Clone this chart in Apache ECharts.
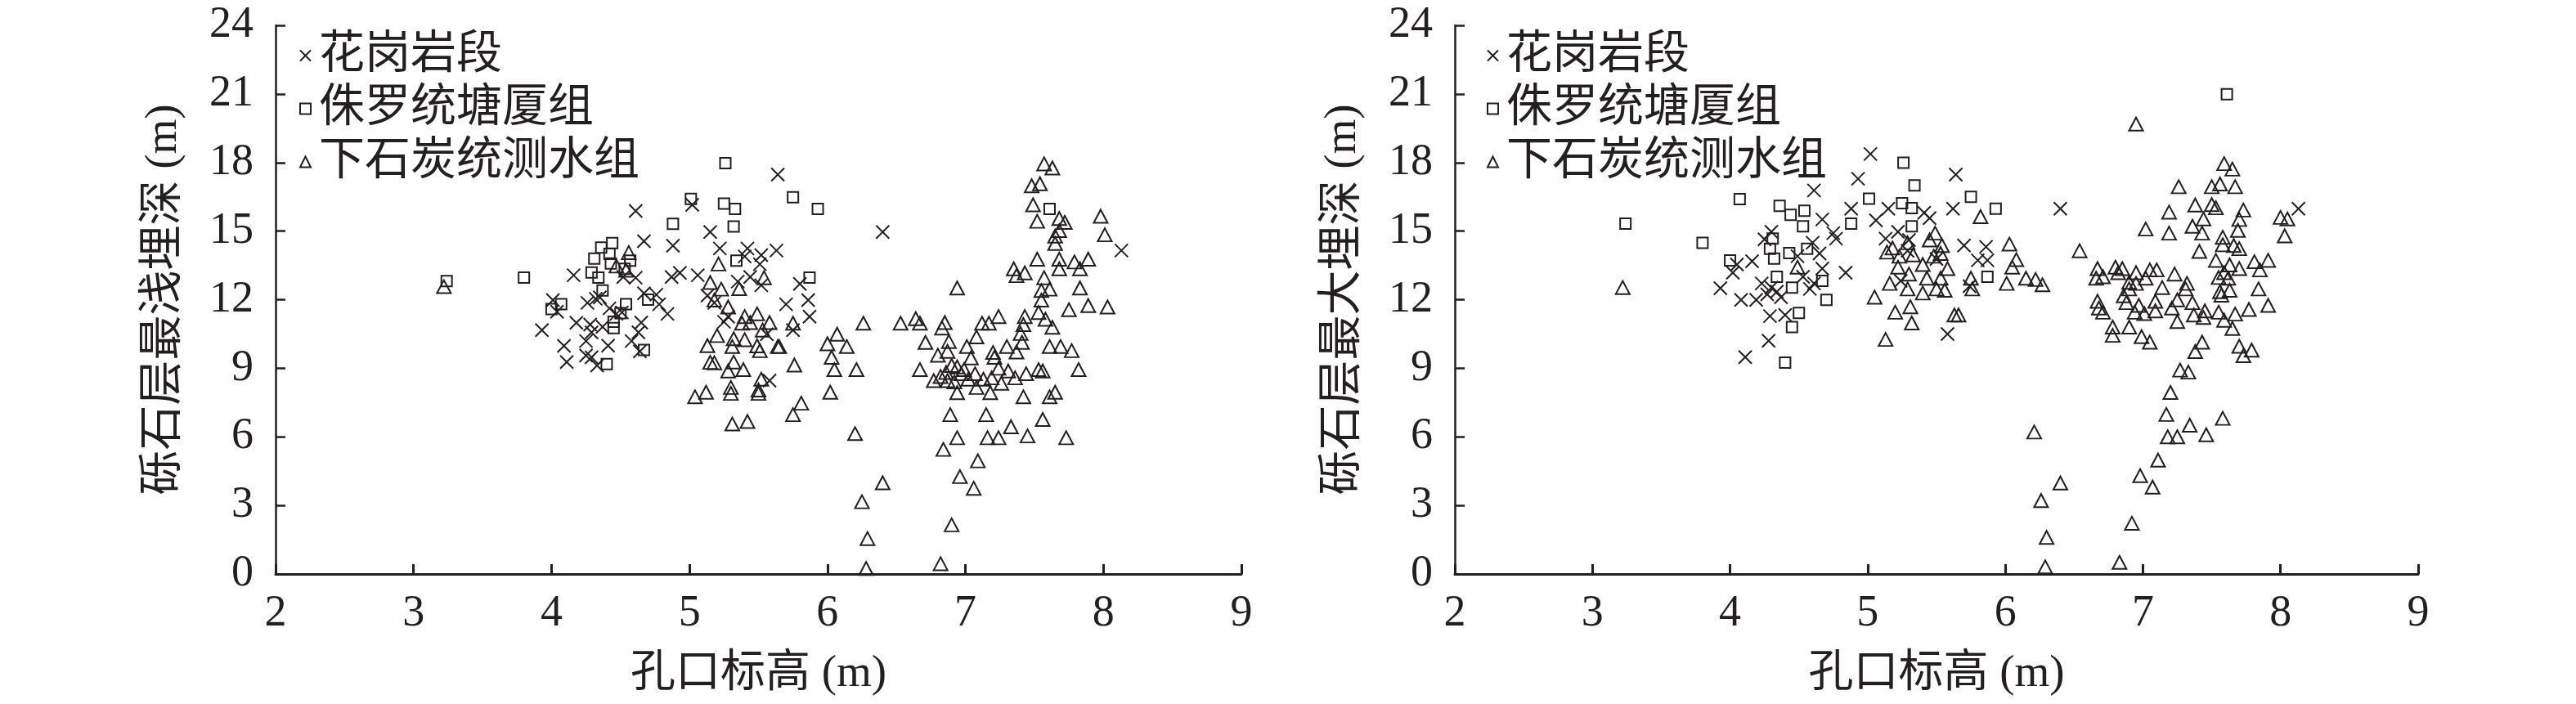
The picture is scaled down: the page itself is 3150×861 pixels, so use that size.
<!DOCTYPE html>
<html>
<head>
<meta charset="utf-8">
<script src="https://cdn.jsdelivr.net/npm/echarts@6/dist/echarts.min.js"></script>
<style>html,body{margin:0;padding:0;background:#fff}#c{width:3150px;height:861px}</style>
</head>
<body>
<div id="c"></div>
<script>
// ---- data ----
const seriesNames = ['花岗岩段', '侏罗统塘厦组', '下石炭统测水组'];
const xAxisTitle = '孔口标高 (m)';
const yAxisTitles = ['砾石层最浅埋深 (m)', '砾石层最大埋深 (m)'];
const xRange = [2, 9, 1];
const yRange = [0, 24, 3];

// left chart: shallowest burial depth
const shallowGranite = [[4.61,15.88],[5.64,17.47],[5.02,16.15],[4.67,14.56],[4.88,14.36],[5.15,14.96],[5.22,14.24],[5.42,14.24],[5.40,13.89],[5.52,13.95],[5.63,14.15],[5.51,13.55],[5.44,12.99],[5.52,12.63],[5.35,12.79],[4.16,13.07],[4.52,12.99],[4.61,12.96],[4.87,12.99],[4.93,13.17],[5.06,13.07],[5.13,12.18],[5.18,11.86],[4.67,12.28],[4.76,12.22],[4.78,11.80],[4.84,11.38],[4.01,11.98],[4.04,11.47],[4.26,11.86],[4.32,12.04],[4.35,12.10],[4.42,11.62],[4.47,11.38],[4.51,11.44],[4.18,10.99],[3.93,10.67],[4.28,10.91],[4.29,10.57],[4.37,10.81],[4.65,11.00],[4.63,10.57],[4.58,10.19],[4.25,10.19],[4.09,9.98],[4.41,9.99],[4.25,9.56],[4.29,9.48],[4.11,9.27],[4.33,9.12],[4.64,9.74],[5.58,8.46],[5.25,11.03],[5.28,11.26],[5.56,10.49],[6.40,14.96],[8.13,14.15],[5.80,12.69],[5.70,11.80],[5.86,11.98],[5.87,11.26],[5.75,10.67]];
const shallowJurassic = [[3.24,12.81],[3.80,12.97],[5.26,17.97],[5.01,16.41],[4.88,15.32],[5.25,16.20],[5.33,15.97],[5.32,15.20],[5.34,13.71],[4.36,14.28],[4.44,14.48],[4.42,14.00],[4.31,13.80],[4.43,13.58],[4.57,13.71],[4.53,13.35],[4.29,13.19],[4.34,12.97],[4.37,12.40],[4.54,11.80],[4.70,12.00],[4.07,11.80],[4.00,11.59],[4.50,11.41],[4.45,11.03],[4.45,10.76],[4.67,9.80],[4.40,9.18],[5.75,16.48],[5.93,15.97],[5.87,12.97],[7.61,15.97]];
const shallowCarbon = [[3.22,12.57],[4.56,14.06],[4.47,13.47],[4.54,13.29],[5.21,13.56],[5.15,12.75],[5.23,12.46],[5.36,12.48],[5.54,12.96],[5.18,11.98],[5.28,11.68],[5.40,11.26],[5.49,11.38],[5.38,10.97],[5.44,11.00],[5.58,11.00],[5.53,10.67],[5.20,10.43],[5.13,9.99],[5.32,10.29],[5.40,10.25],[5.31,9.95],[5.49,9.98],[5.51,9.77],[5.64,9.95],[5.15,9.26],[5.18,9.24],[5.32,9.27],[5.28,8.88],[5.39,8.94],[5.52,8.52],[5.30,8.16],[5.50,8.05],[5.04,7.75],[5.12,7.95],[5.30,7.90],[5.50,7.90],[5.31,6.56],[5.42,6.67],
[7.57,17.94],[7.63,17.76],[7.48,16.98],[7.54,17.07],[7.49,16.15],[7.52,15.43],[7.68,15.55],[7.72,15.38],[7.68,15.02],[7.65,14.78],[7.65,14.46],[7.98,15.65],[8.01,14.84],[7.52,13.77],[7.68,13.77],[7.79,13.65],[7.89,13.77],[7.83,13.35],[7.68,13.35],[7.35,13.35],[7.37,13.05],[7.43,13.17],[7.57,12.96],[7.55,12.40],[7.61,12.46],[7.55,11.98],[7.83,12.51],[7.75,11.56],[7.89,11.74],[8.03,11.68],[6.94,12.51],[7.53,11.44],[7.43,11.26],[7.58,11.14],[7.63,10.79],[7.24,11.26],[7.42,10.91],[7.40,10.52],[7.41,10.13],[7.37,9.71],[7.30,9.95],[7.61,9.95],[7.69,9.95],[7.77,9.77],[7.82,8.94],[7.56,8.88],[7.53,8.94],[7.44,8.76],[7.42,7.75],[7.61,7.75],[7.65,7.95],[7.56,6.76],[7.73,5.96],[7.45,6.04],[7.33,6.44],[7.24,5.96],[7.16,5.96],[7.15,6.97],[6.89,6.97],[6.94,5.96],[6.84,5.45],[7.09,4.95],[6.96,4.26],[7.06,3.75],[6.90,2.15],[6.82,0.45],
[6.53,10.97],[6.26,10.97],[6.64,11.17],[6.67,10.97],[6.85,11.00],[6.83,10.76],[7.12,10.97],[7.17,10.97],[7.08,10.37],[6.71,10.13],[6.88,10.17],[7.01,9.95],[6.80,9.57],[6.87,9.74],[7.04,9.45],[7.20,9.69],[7.21,9.48],[6.90,9.12],[6.94,9.06],[6.67,8.94],[6.86,8.82],[6.99,8.94],[7.07,8.76],[7.24,9.00],[7.31,8.88],[6.77,8.46],[6.87,8.46],[6.92,8.40],[7.02,8.52],[7.13,8.52],[7.19,8.58],[7.26,8.34],[7.36,8.58],[6.94,7.93],[7.08,8.16],[7.18,7.93],[6.82,8.64],[6.97,8.76],
[6.07,10.49],[6.00,10.07],[6.14,9.95],[6.03,9.48],[6.05,8.94],[6.21,8.94],[6.02,7.95],[5.81,7.47],[5.75,6.97],[5.76,9.14],[5.65,9.95],[5.75,10.97],[6.20,6.14],[6.40,3.99],[6.25,3.16],[6.29,1.55],[6.28,0.24]];

// right chart: maximum burial depth
const deepGranite = [[5.02,18.37],[4.93,17.29],[4.61,16.78],[4.88,15.98],[4.67,15.51],[5.15,15.98],[5.06,15.47],[5.64,17.47],[5.62,15.98],[5.41,15.80],[5.45,15.57],[5.22,14.97],[5.13,14.67],[4.75,14.91],[4.77,14.67],[4.84,13.18],[4.30,14.97],[4.25,14.64],[4.60,14.49],[4.65,14.02],[4.16,13.68],[4.05,13.54],[4.02,13.18],[3.93,12.50],[4.49,13.90],[4.67,13.36],[4.53,13.00],[4.23,12.71],[4.30,12.53],[4.34,12.35],[4.27,12.23],[4.37,12.11],[4.19,11.99],[4.08,11.99],[4.61,12.71],[4.58,12.47],[4.29,11.28],[4.40,11.33],[4.28,10.20],[4.11,9.49],[5.29,14.14],[5.30,14.61],[5.24,12.82],[5.58,10.50],[5.50,13.78],[6.40,15.98],[8.13,15.98],[5.70,14.37],[5.86,14.31],[5.80,13.72],[5.87,13.72],[5.74,12.59]];
const deepJurassic = [[3.24,15.33],[3.80,14.49],[4.07,16.40],[4.36,16.10],[4.44,15.71],[4.54,15.89],[4.53,15.21],[4.88,15.33],[5.01,16.42],[5.26,17.99],[5.34,17.00],[5.25,16.22],[5.32,16.01],[5.32,15.21],[4.31,14.67],[4.29,14.23],[4.32,13.80],[4.43,14.04],[4.56,14.23],[4.00,13.72],[4.34,13.00],[4.45,12.53],[4.67,12.82],[4.70,11.99],[4.50,11.42],[4.45,10.80],[4.40,9.25],[7.61,20.99],[5.75,16.50],[5.93,15.98],[5.87,13.00]];
const deepCarbon = [[3.22,12.53],[4.49,13.42],[5.05,12.11],[5.20,11.45],[5.32,10.98],[5.13,10.26],[5.14,14.08],[5.18,14.26],[5.29,14.49],[5.49,14.91],[5.45,14.61],[5.54,14.37],[5.23,13.90],[5.33,13.96],[5.48,13.90],[5.53,14.02],[5.22,13.42],[5.40,13.54],[5.58,13.36],[5.30,13.12],[5.43,12.94],[5.53,12.94],[5.16,12.71],[5.29,12.47],[5.40,12.29],[5.50,12.47],[5.56,12.41],[5.31,11.69],[5.63,11.33],
[6.95,19.68],[5.82,15.63],[6.03,14.43],[6.08,13.75],[6.05,13.42],[5.75,12.94],[5.76,12.47],[6.01,12.71],[6.15,12.94],[6.22,12.88],[6.27,12.65],[5.66,11.33],[6.54,14.14],
[7.59,17.95],[7.65,17.71],[7.26,16.94],[7.50,16.94],[7.56,17.06],[7.67,16.94],[7.38,16.14],[7.50,16.16],[7.53,16.02],[7.73,15.92],[7.19,15.83],[8.00,15.60],[8.05,15.53],[7.44,15.53],[7.36,15.21],[7.70,15.51],[7.02,15.09],[7.19,14.91],[7.43,14.91],[7.69,15.03],[8.03,14.79],[7.58,14.73],[7.58,14.40],[7.66,14.37],[7.70,14.23],[7.41,14.11],[7.53,13.72],[7.63,13.52],[7.70,13.36],[7.81,13.66],[7.91,13.72],[7.85,13.30],[7.55,12.97],[7.59,13.18],[7.62,12.94],[7.56,12.35],[7.63,12.41],[7.84,12.47],[7.57,12.20],[7.91,11.75],[7.77,11.57],[7.67,11.37],[7.55,11.45],[7.59,11.10],[7.65,10.74],[7.70,9.96],[7.79,9.79],[7.73,9.55],[7.43,10.14],[7.38,9.73],[7.45,11.51],[7.37,11.33],[7.44,11.22],[7.36,11.87],[7.31,12.47],[7.32,12.71],[7.23,13.12],[7.14,12.53],[7.10,13.30],[7.05,13.30],[7.02,12.94],[7.25,11.04],[7.25,11.99],[7.21,11.63],[7.09,11.93],[7.09,11.51],[7.01,11.39],[6.94,11.45],[6.97,11.75],[6.88,11.87],[6.90,12.47],[6.95,12.71],[6.95,13.18],[6.85,13.36],[6.80,13.42],[6.71,13.00],[6.67,13.36],[6.66,12.94],[6.67,11.93],[6.68,11.63],[6.71,11.45],[6.78,10.80],[6.78,10.44],[6.90,10.80],[6.86,12.17],[6.99,10.38],[7.05,10.14],[6.90,12.76],[6.82,13.18],
[7.27,8.92],[7.33,8.83],[7.20,7.94],[7.17,6.98],[7.34,6.51],[7.58,6.81],[7.18,6.00],[7.25,6.00],[7.46,6.09],[7.11,4.98],[6.98,4.30],[7.07,3.80],[6.92,2.22],[6.83,0.51],[6.21,6.21],[6.40,3.98],[6.26,3.21],[6.30,1.60],[6.29,0.31]];

const chartData = [
  [shallowGranite, shallowJurassic, shallowCarbon],
  [deepGranite, deepJurassic, deepCarbon]
];

// ---- styles ----
const INK = '#231f20';
const FONT = '"Liberation Serif", "Noto Sans CJK SC", serif';
const symbols = ['path://M0 0L20 20M20 0L0 20', 'rect', 'triangle'];
const symbolSizes = [[16, 16], [13, 13], [17, 16]];
const grids = [
  { left: 337, width: 1181, top: 31, height: 671 },
  { left: 1779, width: 1178, top: 31, height: 671 }
];
const legendLefts = [366, 1818];

const option = {
  backgroundColor: '#ffffff',
  animation: false,
  grid: grids.map(g => Object.assign({ containLabel: false, outerBoundsMode: 'none' }, g)),
  legend: legendLefts.map(l => ({
    left: l, top: 40, orient: 'vertical', padding: 0,
    itemWidth: 13, itemHeight: 13, itemGap: 9,
    data: seriesNames,
    selectedMode: false,
    textStyle: { fontFamily: FONT, fontSize: 56, lineHeight: 54, color: INK, padding: [0, 0, 0, 5] },
    itemStyle: { borderWidth: 2 }
  })),
  xAxis: grids.map((g, i) => ({
    type: 'value', gridIndex: i, min: xRange[0], max: xRange[1], interval: xRange[2],
    name: xAxisTitle, nameLocation: 'middle', nameGap: 95,
    nameTextStyle: { fontFamily: FONT, fontSize: 55, color: INK },
    axisLine: { onZero: false, lineStyle: { color: INK, width: 3 } },
    axisTick: { inside: true, length: 12, lineStyle: { color: INK, width: 3 } },
    axisLabel: { fontFamily: FONT, fontSize: 54, color: INK, margin: 22 },
    splitLine: { show: false }
  })),
  yAxis: grids.map((g, i) => ({
    type: 'value', gridIndex: i, min: yRange[0], max: yRange[1], interval: yRange[2],
    name: yAxisTitles[i], nameLocation: 'middle', nameGap: 109,
    nameTextStyle: { fontFamily: FONT, fontSize: 55, color: INK },
    axisLine: { onZero: false, lineStyle: { color: INK, width: 2.5 } },
    axisTick: { inside: true, length: 12, lineStyle: { color: INK, width: 2.5 } },
    axisLabel: { fontFamily: FONT, fontSize: 54, color: INK, margin: 27 },
    splitLine: { show: false }
  })),
  series: []
};

chartData.forEach((group, ci) => {
  group.forEach((pts, si) => {
    option.series.push({
      type: 'scatter', name: seriesNames[si],
      xAxisIndex: ci, yAxisIndex: ci,
      data: pts,
      symbol: symbols[si], symbolSize: symbolSizes[si],
      itemStyle: { color: 'rgba(255,255,255,0)', borderColor: INK, borderWidth: 2, opacity: 1 },
      emphasis: { disabled: true },
      z: 3 - si
    });
  });
});

const chart = echarts.init(document.getElementById('c'), null, { renderer: 'canvas', width: 3150, height: 861 });
chart.setOption(option);
</script>
</body>
</html>
